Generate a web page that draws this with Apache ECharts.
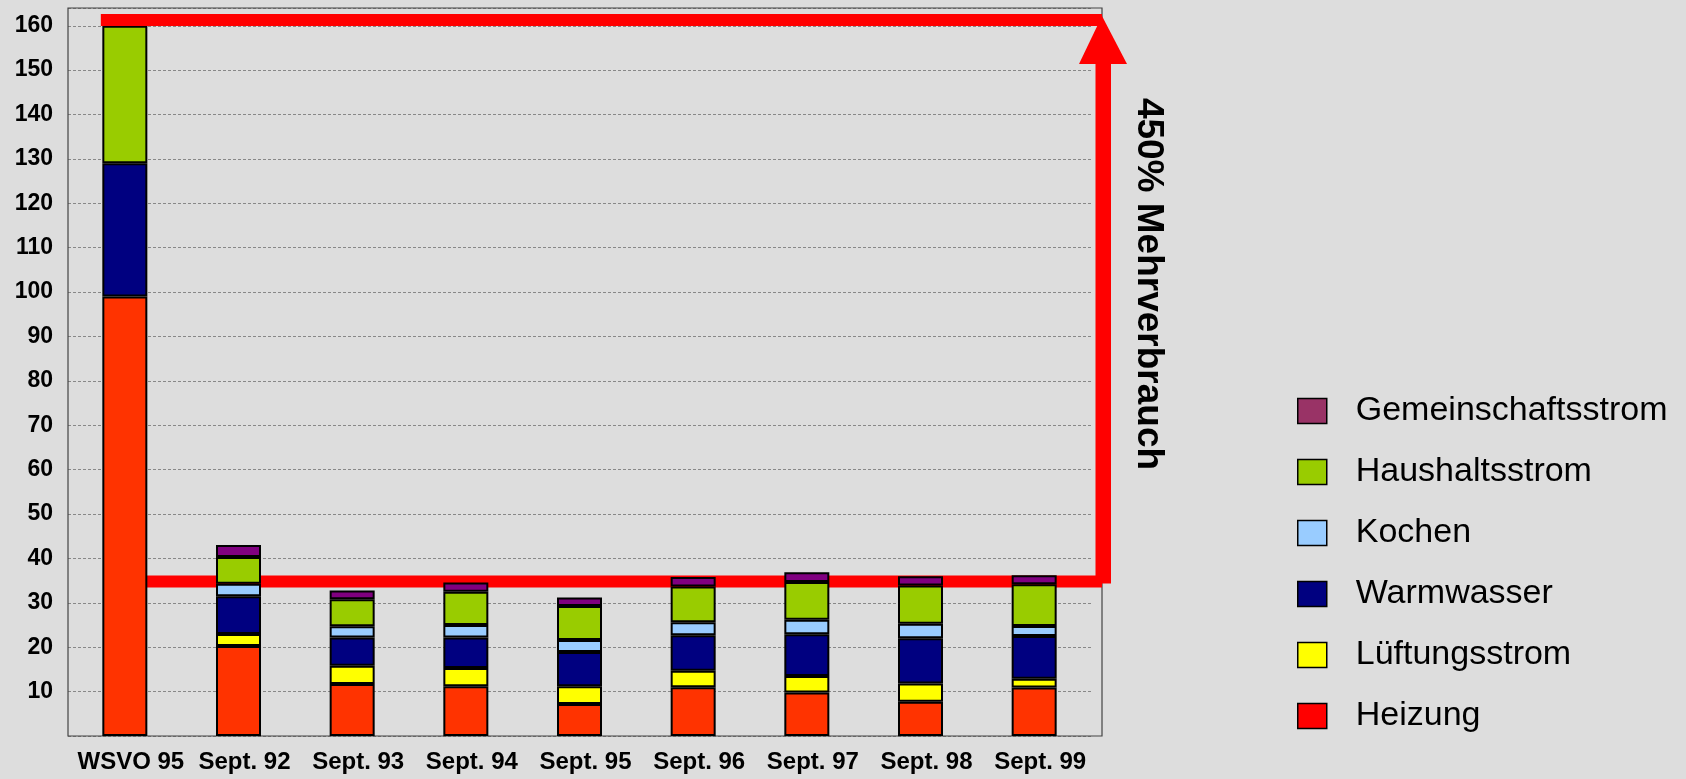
<!DOCTYPE html>
<html>
<head>
<meta charset="utf-8">
<script src="https://cdn.jsdelivr.net/npm/echarts@6/dist/echarts.min.js"></script>
<style>
    html, body { margin: 0; padding: 0; background: #dddddd; }
    #chart { width: 1686px; height: 779px; }
</style>
</head>
<body>
<div id="chart"></div>
<script>
const categories = ['WSVO 95', 'Sept. 92', 'Sept. 93', 'Sept. 94', 'Sept. 95', 'Sept. 96', 'Sept. 97', 'Sept. 98', 'Sept. 99']
const heizung = [99, 20.3, 11.7, 11.2, 7.2, 11.0, 9.8, 7.7, 10.9]
const lueftungsstrom = ['-', 2.7, 4.1, 4.1, 4.0, 3.7, 3.7, 4.1, 2.0]
const warmwasser = [30, 8.5, 6.4, 6.9, 7.7, 8.0, 9.4, 10.2, 9.6]
const kochen = ['-', 2.8, 2.5, 2.8, 2.7, 2.9, 3.3, 3.3, 2.3]
const haushaltsstrom = [31, 6.0, 6.1, 7.5, 7.7, 8.1, 8.5, 8.6, 9.4]
const gemeinschaftsstrom = ['-', 2.7, 2.0, 2.1, 1.9, 2.1, 2.2, 2.1, 2.0]
// levels of the red bracket (WSVO 95 vs. measured years)
const levelTop = 161.3
const levelBase = 34.8

const font = "'Liberation Sans', Arial, sans-serif"
const gridLeft = 68, gridTop = 8, gridWidth = 1023, gridHeight = 728
const frameRight = 1102

const seriesDefs = [
    { name: 'Heizung', data: heizung, color: '#ff3300', legendColor: '#ff0000' },
    { name: 'Lüftungsstrom', data: lueftungsstrom, color: '#ffff00', legendColor: '#ffff00' },
    { name: 'Warmwasser', data: warmwasser, color: '#000080', legendColor: '#000080' },
    { name: 'Kochen', data: kochen, color: '#99ccff', legendColor: '#99ccff' },
    { name: 'Haushaltsstrom', data: haushaltsstrom, color: '#99cc00', legendColor: '#99cc00' },
    { name: 'Gemeinschaftsstrom', data: gemeinschaftsstrom, color: '#800080', legendColor: '#993366' },
]

const chart = echarts.init(document.getElementById('chart'))

chart.setOption({
    backgroundColor: '#dddddd',
    animation: false,
    textStyle: { fontFamily: font },
    grid: { left: gridLeft, top: gridTop, width: gridWidth, height: gridHeight },
    legend: {
        orient: 'vertical',
        left: 1292,
        top: 389,
        icon: 'rect',
        itemWidth: 29,
        itemHeight: 25,
        itemGap: 27,
        selectedMode: false,
        textStyle: { fontSize: 34, lineHeight: 34, color: '#000', fontFamily: font, padding: [0, 0, 0, 24] },
        data: seriesDefs.slice().reverse().map(s => ({
            name: s.name,
            itemStyle: { color: s.legendColor, borderColor: '#000', borderWidth: 1.5 },
        })),
    },
    xAxis: {
        type: 'category',
        data: categories,
        axisLine: { show: false },
        axisTick: { show: false },
        axisLabel: { fontSize: 24, fontWeight: 'bold', color: '#000', margin: 14, padding: [0, 0, 0, 12], interval: 0 },
    },
    yAxis: {
        type: 'value',
        min: 0,
        max: 164,
        interval: 10,
        axisLine: { show: false },
        axisTick: { show: false },
        axisLabel: { fontSize: 23, fontWeight: 'bold', color: '#000', margin: 15, showMinLabel: false, showMaxLabel: false },
        splitLine: { lineStyle: { color: '#888', type: [3, 2], width: 1 } },
    },
    series: seriesDefs.map(s => ({
        name: s.name,
        type: 'bar',
        stack: 'total',
        barWidth: 45,
        data: s.data,
        z: 5,
        itemStyle: { color: s.color, borderColor: '#000', borderWidth: 2 },
    })),
})

// red bracket and arrow, placed with the value axis
const yTop = chart.convertToPixel({ yAxisIndex: 0 }, levelTop)
const yBase = chart.convertToPixel({ yAxisIndex: 0 }, levelBase)
const x0 = chart.convertToPixel({ xAxisIndex: 0 }, 0)
const headBase = yTop + 44

chart.setOption({
    graphic: [
        {
            type: 'rect', z: 1, silent: true,
            shape: { x: gridLeft, y: gridTop, width: frameRight - gridLeft, height: gridHeight },
            style: { fill: 'none', stroke: '#444', lineWidth: 1.2 },
        },
        {
            type: 'rect', z: 10, silent: true,
            shape: { x: x0 - 24, y: yTop - 6, width: frameRight - x0 + 24, height: 12 },
            style: { fill: '#ff0000' },
        },
        {
            type: 'rect', z: 1, silent: true,
            shape: { x: x0, y: yBase - 6, width: frameRight - x0, height: 12 },
            style: { fill: '#ff0000' },
        },
        {
            type: 'rect', z: 1, silent: true,
            shape: { x: frameRight - 6.5, y: headBase - 1, width: 15.5, height: yBase + 3 - headBase },
            style: { fill: '#ff0000' },
        },
        {
            type: 'polygon', z: 1, silent: true,
            shape: { points: [[frameRight - 23, headBase], [frameRight + 25, headBase], [frameRight, yTop - 4]] },
            style: { fill: '#ff0000' },
        },
        {
            type: 'text', z: 10, silent: true,
            x: 1148, y: 284, rotation: -Math.PI / 2,
            style: {
                text: '450% Mehrverbrauch',
                font: 'bold 37px ' + font,
                fill: '#000',
                align: 'center',
                verticalAlign: 'middle',
            },
        },
    ],
})
</script>
</body>
</html>
